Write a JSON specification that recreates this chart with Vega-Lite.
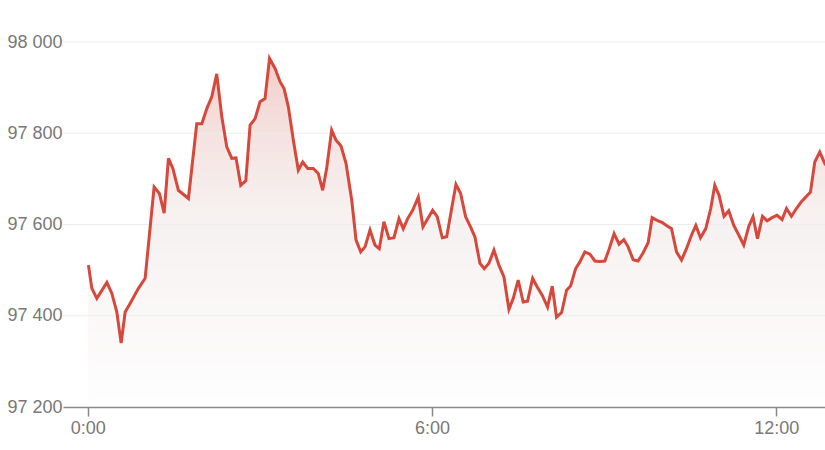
{
  "$schema": "https://vega.github.io/schema/vega-lite/v6.json",
  "autosize": {"type": "none"},
  "width": 762,
  "height": 365,
  "padding": {"left": 63, "top": 42, "right": 0, "bottom": 43},
  "background": "white",
  "config": {
    "view": {"stroke": null},
    "font": "Liberation Sans",
    "axis": {"labelFont": "Liberation Sans", "labelFontSize": 18, "labelColor": "#787878", "titleFontSize": 0}
  },
  "datasets": {
    "price": [
      {"m": 0.6, "v": 97511}, {"m": 4.2, "v": 97460}, {"m": 9.4, "v": 97438}, {"m": 19.9, "v": 97473},
      {"m": 25.1, "v": 97449}, {"m": 30.3, "v": 97408}, {"m": 34.8, "v": 97340}, {"m": 39.0, "v": 97408},
      {"m": 44.2, "v": 97427}, {"m": 52.9, "v": 97460}, {"m": 59.9, "v": 97482}, {"m": 69.3, "v": 97682},
      {"m": 74.8, "v": 97668}, {"m": 79.8, "v": 97625}, {"m": 84.3, "v": 97745}, {"m": 88.9, "v": 97723},
      {"m": 94.7, "v": 97675}, {"m": 105.2, "v": 97657}, {"m": 113.9, "v": 97821}, {"m": 119.2, "v": 97821},
      {"m": 124.4, "v": 97854}, {"m": 129.6, "v": 97880}, {"m": 134.8, "v": 97930}, {"m": 140.1, "v": 97836},
      {"m": 145.3, "v": 97770}, {"m": 150.5, "v": 97745}, {"m": 155.0, "v": 97746}, {"m": 159.9, "v": 97686},
      {"m": 165.2, "v": 97696}, {"m": 169.7, "v": 97818}, {"m": 174.9, "v": 97832}, {"m": 180.1, "v": 97869},
      {"m": 185.3, "v": 97876}, {"m": 190.0, "v": 97964}, {"m": 195.8, "v": 97942}, {"m": 201.0, "v": 97913},
      {"m": 205.2, "v": 97898}, {"m": 209.7, "v": 97858}, {"m": 214.9, "v": 97785}, {"m": 220.1, "v": 97719},
      {"m": 224.7, "v": 97737}, {"m": 230.0, "v": 97723}, {"m": 235.8, "v": 97723}, {"m": 241.0, "v": 97712},
      {"m": 245.6, "v": 97675}, {"m": 249.8, "v": 97723}, {"m": 255.0, "v": 97807}, {"m": 259.5, "v": 97785},
      {"m": 264.8, "v": 97772}, {"m": 270.0, "v": 97734}, {"m": 276.0, "v": 97653}, {"m": 280.5, "v": 97566},
      {"m": 285.4, "v": 97540}, {"m": 289.9, "v": 97551}, {"m": 295.1, "v": 97588}, {"m": 300.3, "v": 97555},
      {"m": 304.8, "v": 97547}, {"m": 309.7, "v": 97606}, {"m": 314.9, "v": 97569}, {"m": 320.2, "v": 97571},
      {"m": 325.4, "v": 97613}, {"m": 329.9, "v": 97591}, {"m": 334.5, "v": 97613}, {"m": 339.7, "v": 97631},
      {"m": 345.6, "v": 97660}, {"m": 350.5, "v": 97595}, {"m": 360.6, "v": 97631}, {"m": 365.4, "v": 97617},
      {"m": 370.7, "v": 97571}, {"m": 375.3, "v": 97573}, {"m": 385.0, "v": 97688}, {"m": 389.9, "v": 97668},
      {"m": 395.1, "v": 97617}, {"m": 400.0, "v": 97596}, {"m": 404.8, "v": 97573}, {"m": 410.1, "v": 97515},
      {"m": 414.6, "v": 97503}, {"m": 419.5, "v": 97515}, {"m": 424.7, "v": 97544}, {"m": 429.9, "v": 97511},
      {"m": 435.2, "v": 97485}, {"m": 440.4, "v": 97414}, {"m": 444.9, "v": 97438}, {"m": 450.1, "v": 97478},
      {"m": 455.3, "v": 97430}, {"m": 459.9, "v": 97432}, {"m": 465.2, "v": 97482}, {"m": 470.0, "v": 97463},
      {"m": 475.2, "v": 97445}, {"m": 480.8, "v": 97419}, {"m": 485.7, "v": 97465}, {"m": 490.2, "v": 97397},
      {"m": 495.5, "v": 97407}, {"m": 500.7, "v": 97456}, {"m": 504.9, "v": 97465}, {"m": 510.1, "v": 97503},
      {"m": 514.6, "v": 97518}, {"m": 519.8, "v": 97540}, {"m": 525.1, "v": 97535}, {"m": 530.3, "v": 97520},
      {"m": 535.5, "v": 97519}, {"m": 540.7, "v": 97520}, {"m": 545.2, "v": 97546}, {"m": 550.4, "v": 97580},
      {"m": 555.6, "v": 97557}, {"m": 560.6, "v": 97567}, {"m": 565.1, "v": 97551}, {"m": 570.3, "v": 97523},
      {"m": 575.5, "v": 97520}, {"m": 580.8, "v": 97538}, {"m": 586.0, "v": 97560}, {"m": 590.2, "v": 97615},
      {"m": 595.4, "v": 97609}, {"m": 601.0, "v": 97604}, {"m": 605.2, "v": 97598}, {"m": 610.5, "v": 97591},
      {"m": 615.7, "v": 97540}, {"m": 620.9, "v": 97522}, {"m": 626.1, "v": 97547}, {"m": 631.4, "v": 97577},
      {"m": 635.9, "v": 97598}, {"m": 640.8, "v": 97571}, {"m": 646.3, "v": 97591}, {"m": 651.5, "v": 97635},
      {"m": 655.7, "v": 97686}, {"m": 660.2, "v": 97664}, {"m": 665.4, "v": 97618}, {"m": 670.3, "v": 97630},
      {"m": 675.6, "v": 97598}, {"m": 680.8, "v": 97577}, {"m": 686.0, "v": 97555}, {"m": 691.3, "v": 97596},
      {"m": 695.7, "v": 97617}, {"m": 700.4, "v": 97569}, {"m": 705.6, "v": 97618}, {"m": 710.4, "v": 97608},
      {"m": 715.6, "v": 97615}, {"m": 720.8, "v": 97620}, {"m": 726.1, "v": 97611}, {"m": 730.7, "v": 97635},
      {"m": 735.9, "v": 97618}, {"m": 741.1, "v": 97635}, {"m": 746.3, "v": 97650}, {"m": 750.8, "v": 97660},
      {"m": 755.8, "v": 97671}, {"m": 760.3, "v": 97737}, {"m": 765.5, "v": 97759}, {"m": 770.7, "v": 97734},
      {"m": 776.0, "v": 97720}
    ],
    "bands": [
      {"lo": 97200, "hi": 97220}, {"lo": 97220, "hi": 97240}, {"lo": 97240, "hi": 97260}, {"lo": 97260, "hi": 97280},
      {"lo": 97280, "hi": 97300}, {"lo": 97300, "hi": 97320}, {"lo": 97320, "hi": 97340}, {"lo": 97340, "hi": 97360},
      {"lo": 97360, "hi": 97380}, {"lo": 97380, "hi": 97400}, {"lo": 97400, "hi": 97420}, {"lo": 97420, "hi": 97440},
      {"lo": 97440, "hi": 97460}, {"lo": 97460, "hi": 97480}, {"lo": 97480, "hi": 97500}, {"lo": 97500, "hi": 97520},
      {"lo": 97520, "hi": 97540}, {"lo": 97540, "hi": 97560}, {"lo": 97560, "hi": 97580}, {"lo": 97580, "hi": 97600},
      {"lo": 97600, "hi": 97620}, {"lo": 97620, "hi": 97640}, {"lo": 97640, "hi": 97660}, {"lo": 97660, "hi": 97680},
      {"lo": 97680, "hi": 97700}, {"lo": 97700, "hi": 97720}, {"lo": 97720, "hi": 97740}, {"lo": 97740, "hi": 97760},
      {"lo": 97760, "hi": 97780}, {"lo": 97780, "hi": 97800}, {"lo": 97800, "hi": 97820}, {"lo": 97820, "hi": 97840},
      {"lo": 97840, "hi": 97860}, {"lo": 97860, "hi": 97880}, {"lo": 97880, "hi": 97900}, {"lo": 97900, "hi": 97920},
      {"lo": 97920, "hi": 97940}, {"lo": 97940, "hi": 97960}, {"lo": 97960, "hi": 97980}
    ],
    "grid": [{"g": 97400}, {"g": 97600}, {"g": 97800}, {"g": 98000}]
  },
  "layer": [
    {
      "data": {"name": "price"},
      "mark": {"type": "area", "clip": true, "color": "#d6483c", "fillOpacity": 0.3},
      "encoding": {
        "x": {
          "field": "m", "type": "quantitative",
          "scale": {"domain": [-26, 771], "nice": false, "zero": false},
          "axis": {
            "values": [0, 360, 720],
            "labelExpr": "floor(datum.value/60) + ':00'",
            "grid": false, "title": null,
            "domainColor": "#8a8a8a", "domainWidth": 1.5,
            "tickColor": "#8a8a8a", "tickWidth": 1.5, "tickSize": 9,
            "labelPadding": 3, "zindex": 1
          }
        },
        "y": {
          "field": "v", "type": "quantitative",
          "scale": {"domain": [97200, 98000], "nice": false, "zero": false},
          "axis": {
            "values": [97200, 97400, 97600, 97800, 98000],
            "labelExpr": "replace(format(datum.value, ','), ',', ' ')",
            "domain": false, "ticks": false, "title": null,
            "grid": false, "labelPadding": 1
          }
        }
      }
    },
    {
      "data": {"name": "bands"},
      "mark": {"type": "rect", "color": "white", "strokeWidth": 0},
      "encoding": {
        "y": {"field": "hi", "type": "quantitative", "title": null},
        "y2": {"datum": 97200},
        "opacity": {
          "field": "lo", "type": "quantitative", "legend": null,
          "scale": {
            "domain": [97200, 97220, 97240, 97260, 97300, 97400, 97500, 97600, 97700, 97800, 97900, 97960],
            "range": [0.846, 0.665, 0.54, 0.453, 0.34, 0.21, 0.151, 0.118, 0.097, 0.082, 0.071, 0.066]
          }
        }
      }
    },
    {
      "data": {"name": "grid"},
      "mark": {"type": "rule", "color": "#ededed", "strokeWidth": 1},
      "encoding": {
        "y": {"field": "g", "type": "quantitative", "title": null}
      }
    },
    {
      "data": {"name": "price"},
      "mark": {"type": "line", "clip": true, "color": "#d6483c", "strokeWidth": 3, "strokeJoin": "miter"},
      "encoding": {
        "x": {"field": "m", "type": "quantitative"},
        "y": {"field": "v", "type": "quantitative"}
      }
    }
  ]
}
